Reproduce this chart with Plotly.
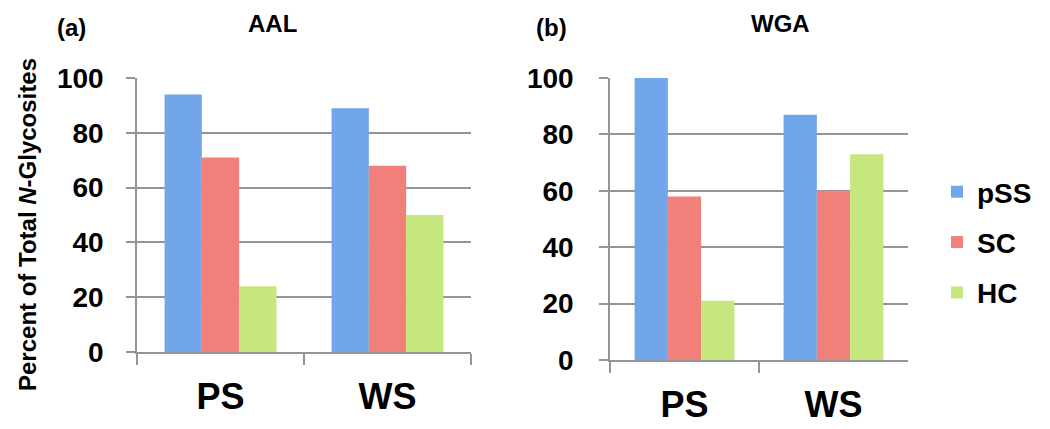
import plotly.graph_objects as go

# Data
groups = ["PS", "WS"]
series = ["pSS", "SC", "HC"]
aal_pss = [94, 89]
aal_sc = [71, 68]
aal_hc = [24, 50]
wga_pss = [100, 87]
wga_sc = [58, 60]
wga_hc = [21, 73]
y_ticks = [0, 20, 40, 60, 80, 100]

colors = {"pSS": "#72a6ea", "SC": "#f08079", "HC": "#c6e67e"}

FONT = "Liberation Sans, Arial, sans-serif"
W, H = 1050, 429
OFF = 8  # page body margin in the browser


def px_x(v):
    return (v - OFF) / W


def px_y(v):
    return 1 - (v - OFF) / H


fig = go.Figure()

panels = [
    ("x", "y", [aal_pss, aal_sc, aal_hc], True),
    ("x2", "y2", [wga_pss, wga_sc, wga_hc], False),
]
for xa, ya, vals, show in panels:
    for name, v in zip(series, vals):
        fig.add_trace(
            go.Bar(
                x=groups,
                y=v,
                name=name,
                xaxis=xa,
                yaxis=ya,
                marker=dict(color=colors[name], line=dict(width=0)),
                showlegend=show,
                legendgroup=name,
            )
        )

axis_common = dict(
    showline=True,
    linecolor="#949494",
    linewidth=1.5,
    ticks="outside",
    tickcolor="#949494",
    tickwidth=1.5,
    automargin=False,
)

xaxis_common = dict(
    tickson="boundaries",
    ticklen=11,
    ticklabelstandoff=12,
    tickfont=dict(size=36, weight="bold"),
    **axis_common,
)

yaxis_common = dict(
    range=[0, 100],
    tickvals=y_ticks,
    ticklen=9,
    showgrid=True,
    gridcolor="#949494",
    gridwidth=1.5,
    zeroline=False,
    tickfont=dict(size=28, weight="bold"),
    **axis_common,
)

fig.update_layout(
    width=W,
    height=H,
    autosize=False,
    margin=dict(l=0, r=0, t=0, b=0, pad=0, autoexpand=False),
    paper_bgcolor="white",
    plot_bgcolor="white",
    barmode="group",
    bargap=0.33,
    bargroupgap=0,
    font=dict(family=FONT, color="black"),
    xaxis=dict(domain=[px_x(137), px_x(471)], anchor="y", **xaxis_common),
    yaxis=dict(domain=[px_y(352), px_y(78)], anchor="x",
               ticklabelstandoff=17, **yaxis_common),
    xaxis2=dict(domain=[px_x(610), px_x(908)], anchor="y2", **xaxis_common),
    yaxis2=dict(domain=[px_y(360), px_y(78)], anchor="x2",
                ticklabelstandoff=20, **yaxis_common),
    legend=dict(
        x=px_x(937),
        y=px_y(167),
        xanchor="left",
        yanchor="top",
        font=dict(size=28, weight="bold"),
        tracegroupgap=11,
        traceorder="grouped",
        itemwidth=30,
        bgcolor="rgba(0,0,0,0)",
    ),
)

annotations = [
    dict(text="(a)", x=px_x(71), y=px_y(28)),
    dict(text="AAL", x=px_x(272), y=px_y(24)),
    dict(text="(b)", x=px_x(551), y=px_y(28)),
    dict(text="WGA", x=px_x(780), y=px_y(24)),
]
for a in annotations:
    fig.add_annotation(
        xref="paper", yref="paper", showarrow=False,
        xanchor="center", yanchor="middle",
        font=dict(size=24, weight="bold"), **a,
    )

fig.add_annotation(
    text="Percent of Total <i>N</i>-Glycosites",
    xref="paper", yref="paper", x=px_x(27), y=px_y(225),
    xanchor="center", yanchor="middle",
    textangle=-90, showarrow=False,
    font=dict(size=24, weight="bold"),
)

fig.write_html("out.html")
